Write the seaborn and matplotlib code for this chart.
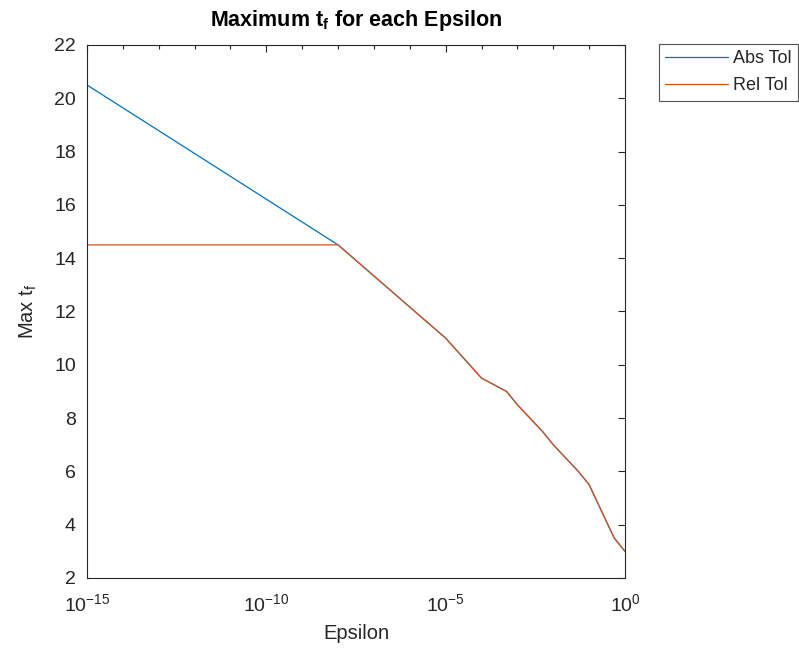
import numpy as np
import pandas as pd
import matplotlib
matplotlib.use("Agg")
import matplotlib.pyplot as plt
import matplotlib.ticker as mticker
import seaborn as sns

# Data
eps_abs = [1e-15, 1e-8, 1e-5, 1e-4, 5e-4, 1e-3, 5e-3, 1e-2, 5e-2, 1e-1, 5e-1, 1e0]
tf_abs = [20.5, 14.5, 11.0, 9.5, 9.0, 8.5, 7.5, 7.0, 6.0, 5.5, 3.5, 3.0]
eps_rel = [1e-15, 1e-8, 1e-5, 1e-4, 5e-4, 1e-3, 5e-3, 1e-2, 5e-2, 1e-1, 5e-1, 1e0]
tf_rel = [14.5, 14.5, 11.0, 9.5, 9.0, 8.5, 7.5, 7.0, 6.0, 5.5, 3.5, 3.0]
series_names = ["Abs Tol", "Rel Tol"]
y_ticks = [2, 4, 6, 8, 10, 12, 14, 16, 18, 20, 22]

df = pd.concat([
    pd.DataFrame({"eps": eps_abs, "tf": tf_abs, "series": series_names[0]}),
    pd.DataFrame({"eps": eps_rel, "tf": tf_rel, "series": series_names[1]}),
])

sns.set_style("white")
plt.rcParams["font.family"] = ["Liberation Sans", "DejaVu Sans"]
plt.rcParams["mathtext.fontset"] = "custom"
plt.rcParams["mathtext.rm"] = "Liberation Sans"
plt.rcParams["mathtext.it"] = "Liberation Sans:italic"
plt.rcParams["mathtext.bf"] = "Liberation Sans:bold"

fig = plt.figure(figsize=(7.99, 6.55), dpi=100)
ax = fig.add_axes([87/799, 1-578/655, (625-87)/799, (578-45)/655])

palette = {"Abs Tol": "#0072BD", "Rel Tol": "#D95319"}
sns.lineplot(data=df, x="eps", y="tf", hue="series", palette=palette,
             linewidth=0.9, ax=ax, legend=False, sort=False, estimator=None)

ax.set_xscale("log")
ax.set_xlim(1e-15, 1e0)
ax.set_ylim(2, 22)
ax.set_yticks(y_ticks)
ax.xaxis.set_major_locator(mticker.FixedLocator([1e-15, 1e-10, 1e-5, 1e0]))
ax.xaxis.set_minor_locator(mticker.FixedLocator([10.0**k for k in range(-15, 1)]))
ax.xaxis.set_major_formatter(mticker.LogFormatterMathtext())
ax.xaxis.set_minor_formatter(mticker.NullFormatter())

edge = "#262626"
for s in ax.spines.values():
    s.set_color(edge)
    s.set_linewidth(0.8)
    s.set_visible(True)
ax.tick_params(axis="both", which="both", direction="in", top=True, right=True,
               colors=edge, labelcolor="#262626", labelsize=14, width=0.8)
ax.tick_params(axis="both", which="major", length=5)
ax.tick_params(axis="x", which="major", pad=11)
ax.tick_params(axis="y", which="major", pad=8)
ax.tick_params(axis="x", which="minor", length=3)

ax.set_xlabel("Epsilon", fontsize=14.5, color="#262626", labelpad=6)
ax.set_ylabel(r"Max $\mathrm{t_f}$", fontsize=14.5, color="#262626", labelpad=11)
ax.set_title(r"Maximum $\mathbf{t_f}$ for each Epsilon", fontsize=15.5,
             fontweight="bold", color="black", pad=14)

handles = [plt.Line2D([], [], color=palette[n], lw=0.9) for n in series_names]
leg = fig.legend(handles, series_names, loc="upper left",
                 bbox_to_anchor=(659/799, 1-44/655), fontsize=13,
                 frameon=True, fancybox=False, framealpha=1, edgecolor="#555555",
                 handlelength=3.45, handletextpad=0.3, borderpad=0.35,
                 labelspacing=0.55, borderaxespad=0)
leg.get_frame().set_linewidth(0.8)

fig.savefig("out.png", dpi=100)
